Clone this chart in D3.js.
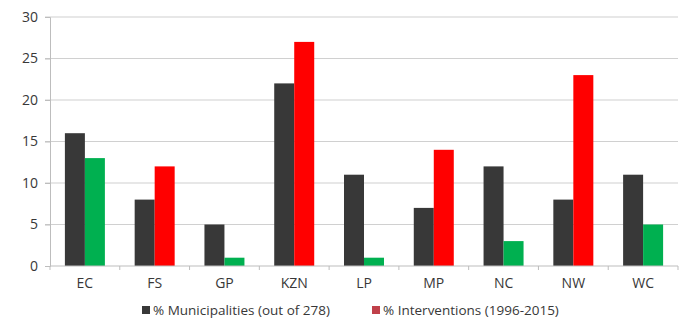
<!DOCTYPE html>
<html lang="en">
<head>
<meta charset="UTF-8">
<title>Municipalities vs Interventions</title>
<script src="https://cdn.jsdelivr.net/npm/d3@7/dist/d3.min.js"></script>
<style>
  body { margin: 0; background: #fff; }
  text { font-family: "Open Sans", "Liberation Sans", sans-serif; fill: #383838; }
</style>
</head>
<body>
<svg width="684" height="318"></svg>
<script>
// provinces
var provinces = ['EC', 'FS', 'GP', 'KZN', 'LP', 'MP', 'NC', 'NW', 'WC'];
// % municipalities (out of 278)
var municipalities = [16, 8, 5, 22, 11, 7, 12, 8, 11];
// % interventions (1996-2015)
var interventions = [13, 12, 1, 27, 1, 14, 3, 23, 5];
var yTicks = [0, 5, 10, 15, 20, 25, 30];

var svg = d3.select('svg');
var plotL = 50, plotR = 678, plotT = 17, plotB = 266;

var x = d3.scaleBand().domain(provinces).range([plotL, plotR]);
var y = d3.scaleLinear().domain([0, 30]).range([plotB, plotT]);
var bw = 20;

// grid lines
svg.append('g').selectAll('line')
  .data(yTicks.slice(1))
  .enter().append('line')
  .attr('x1', plotL - 5).attr('x2', plotR)
  .attr('y1', function(d) { return y(d); })
  .attr('y2', function(d) { return y(d); })
  .attr('stroke', '#d0d0d0').attr('stroke-width', 1.2);

// y axis
var yAxis = svg.append('g')
  .attr('transform', 'translate(' + plotL + ',0)')
  .call(d3.axisLeft(y).tickValues(yTicks).tickSize(5).tickPadding(7));
yAxis.select('.domain').attr('stroke', '#bdbdbd');
yAxis.selectAll('line').attr('stroke', '#bdbdbd');
yAxis.selectAll('text').style('font-size', '14px').attr('fill', '#383838');

// bars
var g = svg.append('g');
g.selectAll('.m')
  .data(provinces)
  .enter().append('rect')
  .attr('x', function(d) { return x(d) + x.bandwidth() / 2 - bw; })
  .attr('y', function(d, i) { return y(municipalities[i]); })
  .attr('width', bw)
  .attr('height', function(d, i) { return plotB - y(municipalities[i]); })
  .attr('fill', '#383838');

g.selectAll('.n')
  .data(provinces)
  .enter().append('rect')
  .attr('x', function(d) { return x(d) + x.bandwidth() / 2; })
  .attr('y', function(d, i) { return y(interventions[i]); })
  .attr('width', bw)
  .attr('height', function(d, i) { return plotB - y(interventions[i]); })
  .attr('fill', function(d, i) {
    return interventions[i] > municipalities[i] ? '#ff0000' : '#00b050';
  });

// x axis
svg.append('line')
  .attr('x1', plotL).attr('x2', plotR)
  .attr('y1', plotB).attr('y2', plotB)
  .attr('stroke', '#bdbdbd').attr('stroke-width', 1.2);
svg.append('g').selectAll('line')
  .data(provinces.concat(['end']))
  .enter().append('line')
  .attr('x1', function(d, i) { return plotL + i * x.step(); })
  .attr('x2', function(d, i) { return plotL + i * x.step(); })
  .attr('y1', plotB).attr('y2', plotB + 4)
  .attr('stroke', '#bdbdbd');
svg.append('g').selectAll('text')
  .data(provinces)
  .enter().append('text')
  .attr('x', function(d) { return x(d) + x.bandwidth() / 2; })
  .attr('y', 288)
  .attr('text-anchor', 'middle')
  .style('font-size', '14px')
  .text(function(d) { return d; });

// legend
var legend = [
  { label: '% Municipalities (out of 278)', color: '#383838', x: 142 },
  { label: '% Interventions (1996-2015)', color: '#c0404a', x: 372 }
];
var lg = svg.append('g').selectAll('g')
  .data(legend)
  .enter().append('g')
  .attr('transform', function(d) { return 'translate(' + d.x + ',305)'; });
lg.append('rect').attr('width', 8).attr('height', 8).attr('y', 1)
  .attr('fill', function(d) { return d.color; });
lg.append('text').attr('x', 11).attr('y', 9.5)
  .style('font-size', '13.5px')
  .text(function(d) { return d.label; });
</script>
</body>
</html>
